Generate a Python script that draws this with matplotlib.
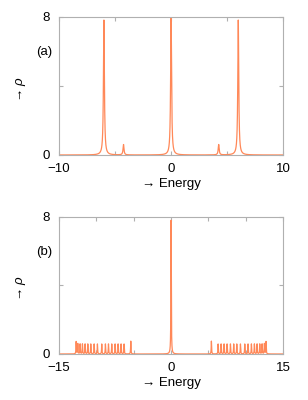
import numpy as np
import matplotlib
matplotlib.use("Agg")
import matplotlib.pyplot as plt

plt.rcParams["font.family"] = ["Liberation Sans", "DejaVu Sans"]
plt.rcParams["mathtext.fontset"] = "custom"
plt.rcParams["mathtext.it"] = "Liberation Sans:italic"

# peaks: (position, height)
peaks_a_pos = [-6.0, -4.25, 0.0, 4.25, 6.0]
peaks_a_height = [7.8, 0.6, 8.0, 0.6, 7.8]

band_b_left = [-12.72, -12.50, -12.19, -11.88, -11.52, -11.16, -10.76, -10.31,
               -9.87, -9.29, -8.80, -8.39, -7.95, -7.50, -7.10, -6.70, -6.30, -5.40]
band_b_height = [0.72, 0.6, 0.58, 0.58, 0.58, 0.58, 0.58, 0.58,
                 0.58, 0.58, 0.58, 0.58, 0.58, 0.58, 0.58, 0.58, 0.58, 0.75]
peaks_b_pos = band_b_left + [0.0] + [-e for e in band_b_left[::-1]]
peaks_b_height = band_b_height + [7.8] + band_b_height[::-1]

panels = [
    ("(a)", peaks_a_pos, peaks_a_height, (-10, 10), [-10, 0, 10], 0.05),
    ("(b)", peaks_b_pos, peaks_b_height, (-15, 15), [-15, 0, 15], 0.03),
]

line_color = "#ff8858"
frame_color = "#b0b0b0"

fig = plt.figure(figsize=(3.08, 4.0), dpi=100)
boxes = [[0.192, 0.6125, 0.727, 0.346], [0.192, 0.115, 0.727, 0.343]]


def dos(x, pos, height, gamma):
    out = np.zeros_like(x)
    for p, h in zip(pos, height):
        out += h * gamma**2 / ((x - p) ** 2 + gamma**2)
    return out


def fmt(v):
    return str(v).replace("-", "\u2212")


for box, (tag, pos, height, xlim, xlab, gamma) in zip(boxes, panels):
    ax = fig.add_axes(box)
    x = np.linspace(xlim[0], xlim[1], 30001)
    ax.plot(x, dos(x, pos, height, gamma), color=line_color, lw=0.9)
    ax.set_xlim(*xlim)
    ax.set_ylim(0, 8)
    xt = np.arange(xlim[0], xlim[1] + 1, 5)
    ax.set_xticks(xt)
    ax.set_xticklabels([fmt(v) if v in xlab else "" for v in xt])
    ax.set_yticks([0, 4, 8])
    ax.set_yticklabels(["0", "", "8"])
    ax.tick_params(direction="in", length=3, width=0.8, color=frame_color,
                   top=True, right=True, labelsize=9.5)
    ax.tick_params(axis="x", pad=6)
    ax.tick_params(axis="y", pad=7)
    for s in ax.spines.values():
        s.set_color(frame_color)
        s.set_linewidth(0.8)
    ax.set_xlabel("\u2192 Energy", fontsize=9.5, labelpad=2)
    ax.set_ylabel("\u2192 $\\rho$", fontsize=9.5)
    ax.yaxis.set_label_coords(-0.14, 0.48)
    ax.text(-0.065, 0.745, tag, transform=ax.transAxes, fontsize=9.5,
            ha="center", va="center")

fig.savefig("out.png", dpi=100)
